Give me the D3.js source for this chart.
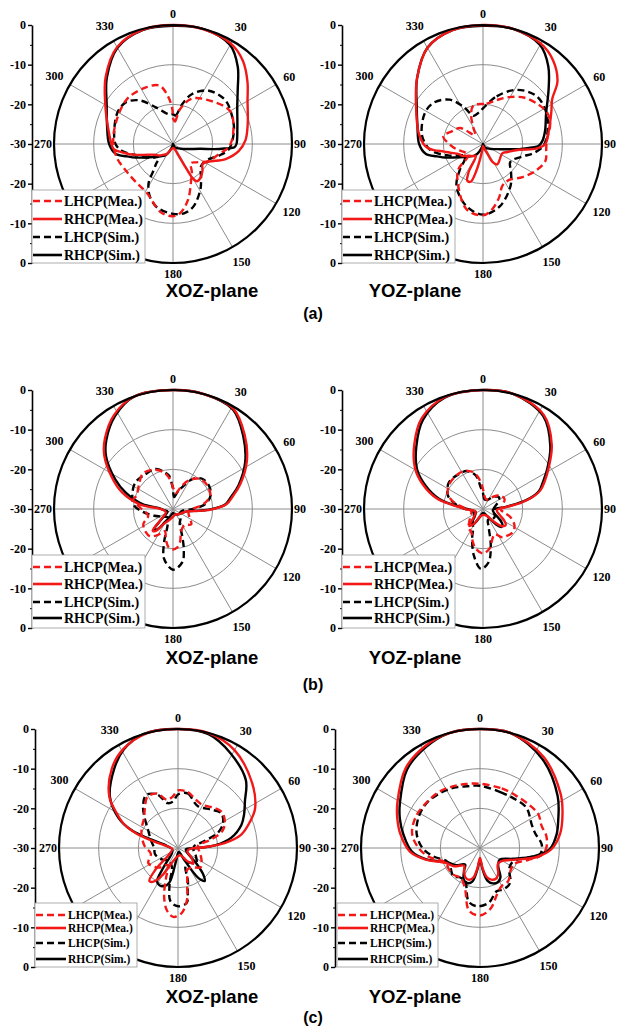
<!DOCTYPE html>
<html>
<head>
<meta charset="utf-8">
<script src="https://cdn.jsdelivr.net/npm/d3@7"></script>
<style>
  body { margin: 0; background: #fff; }
  svg { display: block; }
</style>
</head>
<body>
<svg id="chart" width="629" height="1028"></svg>
<script>
// ---- Tick labels / legend text ----
const spokeAngles = [0, 30, 60, 90, 120, 150, 180, 210, 240, 270, 300, 330];
// 210 and 240 sit under the legend box, so only these carry a label
const angleLabels = [0, 30, 60, 90, 120, 150, 180, 270, 300, 330];
const gridLevels = [-20, -10];
const axisTickLabels = ["0", "-10", "-20", "-30", "-20", "-10", "0"];
const legendLabels = ["LHCP(Mea.)", "RHCP(Mea.)", "LHCP(Sim.)", "RHCP(Sim.)"];
const planeTitles = ["XOZ-plane", "YOZ-plane"];
const figureLetters = ["(a)", "(b)", "(c)"];

// ---- Normalised patterns: [angle in degrees, level in dB] ----
// (a) XOZ-plane
const aXozLhcpMea = [[0,-23.5],[5,-24.3],[11,-21.2],[22,-17.7],[37,-16],[60,-13.4],[80,-14.6],[93,-15.9],[102,-18.1],[115,-20],[128,-22.5],[137,-23.4],[146,-21.5],[154,-19.6],[165,-15.4],[174,-12.5],[180,-11.8],[190,-12.5],[208,-16],[225,-16.6],[242,-16.3],[255,-15.5],[268,-15],[287,-14.7],[314,-13.8],[335,-14.2],[347,-14.9],[354,-17.9],[359,-21.3]];
const aXozRhcpMea = [[0,0],[15,-0.1],[30,-0.8],[40,-2.6],[50,-5.5],[60,-8.3],[75,-10.5],[87,-11.7],[96,-13.3],[106,-16.2],[116,-19.9],[124,-21],[132,-20],[140,-19.1],[147,-18.8],[150,-20],[152,-24],[156,-27.5],[165,-28.8],[180,-29],[200,-28.5],[212,-27],[220,-26.5],[230,-25.5],[240,-24.6],[250,-22],[255,-19.6],[259,-17.8],[265,-15],[270,-14.5],[285,-13],[300,-10.3],[315,-6],[330,-1.8],[345,-0.2]];
const aXozLhcpSim = [[0,-22.5],[5,-22.8],[13,-19.7],[21,-16.5],[34,-13.8],[50,-12.8],[66,-13.6],[78,-14.3],[95,-15.8],[104,-18],[113,-20.2],[122,-21],[130,-20.9],[140,-19],[149,-16.6],[162,-13.4],[171,-12.3],[180,-12.4],[194,-13.5],[204,-15.6],[212,-18.4],[216,-21.5],[221,-23.7],[226,-25.3],[235,-24],[245,-22],[251,-20.9],[262,-17.1],[270,-15.5],[283,-14.8],[300,-13.9],[311,-14.1],[322,-16],[335,-19.8],[347,-22],[354,-22.5]];
const aXozRhcpSim = [[0,-0.2],[15,0],[30,-1.2],[40,-4.6],[50,-8.7],[60,-11.3],[75,-13.2],[90,-14],[93,-14.5],[95,-17],[97,-19.5],[100,-23],[110,-26.3],[120,-27.6],[150,-29],[180,-30],[195,-29.5],[205,-28],[215,-26.5],[225,-25.6],[240,-23.3],[250,-20],[255,-18],[260,-15.4],[270,-13.9],[285,-12.8],[300,-10.7],[315,-6.4],[330,-2],[345,-0.3]];

// (a) YOZ-plane
const aYozLhcpMea = [[0,-19.9],[5,-19.8],[18,-18.3],[29,-16.5],[42,-14.3],[55,-12.8],[64,-12],[73,-12.3],[79,-13],[86,-13.9],[95,-14],[105,-13.7],[117,-15.1],[130,-17],[144,-18.8],[155,-18.4],[163,-16],[172,-13.4],[180,-12],[194,-13],[210,-17.6],[224,-21],[232,-25.5],[245,-25],[258,-23.3],[270,-21.5],[281,-19.8],[292,-21.5],[305,-23],[318,-27],[330,-25],[338,-22],[346,-20]];
const aYozRhcpMea = [[0,0],[15,0],[30,-0.8],[40,-2.5],[50,-5.5],[57,-9.2],[65,-11],[78,-13],[90,-14.3],[95,-16.5],[99,-20.8],[108,-23.5],[116,-24.6],[134,-24.2],[145,-23.7],[152,-24.8],[156,-27.5],[168,-29],[180,-29.5],[188,-28],[194,-23],[198,-20],[203,-19.9],[207,-22],[211,-26.5],[220,-26],[230,-25.4],[240,-24],[247,-23.4],[255,-21.5],[259,-20],[263,-17.5],[266,-16],[270,-15],[280,-13.5],[300,-10.5],[315,-6.5],[330,-2],[345,-0.3]];
const aYozLhcpSim = [[0,-21],[16,-17.5],[32,-13.9],[48,-11.9],[64,-12.2],[80,-13.5],[92,-14.8],[100,-17],[107,-19.4],[118,-21.5],[125,-21.7],[135,-20],[147,-17.3],[165,-13.7],[180,-12.2],[195,-13.8],[212,-17.4],[222,-21.3],[230,-24],[238,-24.4],[251,-21],[262,-17],[270,-15.5],[280,-14.3],[298,-13.4],[310,-13.8],[323,-16],[332,-19.3],[342,-22.5],[352,-22]];
const aYozRhcpSim = [[0,-0.2],[15,0],[30,-1.2],[40,-4.4],[50,-8.4],[64,-12.3],[78,-14],[87,-15],[92,-16],[94,-17.6],[98,-20.8],[109,-26],[120,-27.5],[150,-29],[180,-30],[195,-29.5],[205,-28],[215,-26.5],[225,-25.6],[240,-23.3],[250,-20],[255,-18],[260,-15.4],[270,-13.9],[285,-12.9],[300,-10.7],[315,-6.5],[330,-2],[345,-0.3]];

// (b) XOZ-plane
const bXozLhcpMea = [[0,-24.5],[10,-26],[20,-24],[30,-21.5],[42,-19.8],[55,-19.5],[70,-20],[80,-22],[90,-25],[100,-26],[115,-25.5],[130,-24],[145,-25],[160,-24],[168,-21.5],[174,-20.2],[180,-19.8],[186,-20.2],[193,-22],[200,-24],[210,-22.5],[220,-21],[230,-21],[243,-21.6],[255,-23.5],[273,-21.6],[283,-19.7],[290,-20.2],[305,-19.5],[319,-18.3],[334,-19],[346,-20.5],[354,-22.4]];
const bXozRhcpMea = [[0,0],[15,0],[31,-0.5],[44,-4],[57,-7.8],[70,-12],[78,-14.6],[85,-16.5],[91,-20.5],[95,-24],[100,-26.5],[130,-28],[160,-28.5],[180,-28],[200,-27],[212,-25.5],[218,-23],[223,-22.5],[228,-25.5],[245,-28],[265,-27.5],[273,-26],[278,-21.5],[288,-16.5],[297,-12.8],[308,-8],[316,-5.3],[328,-2],[341,0]];
const bXozLhcpSim = [[0,-25],[5,-27],[15,-25.5],[23,-24],[33,-21],[44,-19.4],[57,-19.2],[70,-19.9],[81,-21.7],[90,-25],[100,-27.5],[120,-28],[140,-27],[155,-26],[161,-23],[165,-19.5],[170,-16.4],[180,-14.7],[190,-17.2],[195,-21.3],[198,-25.5],[210,-27.5],[230,-27],[250,-25],[265,-22.3],[275,-20.2],[288,-19.2],[305,-18.4],[320,-18.8],[337,-19],[347,-20.5],[353,-21.5],[358,-24]];
const bXozRhcpSim = [[0,0],[15,0],[31,-0.7],[44,-4.5],[57,-8.3],[70,-12.4],[78,-15],[85,-16.8],[91,-20.9],[95,-24.5],[100,-26.5],[130,-28],[160,-28.5],[180,-29],[200,-28],[212,-26],[218,-23.5],[223,-23],[228,-26],[245,-28.5],[265,-27.5],[274,-26.5],[279,-22.2],[289,-17.4],[297,-13.7],[308,-8.6],[316,-5.8],[328,-2.4],[341,0]];

// (b) YOZ-plane
const bYozLhcpMea = [[0,-25],[5,-26.5],[20,-27.5],[35,-26.5],[47,-25],[55,-24.3],[65,-24],[80,-25],[92,-25.5],[100,-24.5],[107,-22.7],[118,-21],[128,-20.5],[140,-21],[146,-21.4],[155,-23],[163,-22],[170,-20],[180,-18.8],[190,-19.8],[198,-21.5],[207,-23.5],[217,-24],[235,-26],[260,-27],[275,-25],[283,-22.5],[292,-20.5],[305,-19.5],[320,-19.2],[332,-19.3],[342,-20],[350,-21.5],[356,-23.5]];
const bYozRhcpMea = [[0,0],[15,0],[33,-1.8],[47,-6.3],[58,-10.5],[66,-13],[72,-14.8],[77,-17.5],[81,-20.5],[85,-24],[95,-26.5],[110,-25.5],[118,-24],[125,-23],[132,-23.5],[140,-26],[150,-28],[180,-28.5],[200,-28],[212,-25.5],[219,-24.5],[226,-26.5],[250,-28],[268,-26],[277,-22.5],[283,-18],[292,-13.7],[301,-10],[313,-6.3],[326,-2.4],[341,-0.2]];
const bYozLhcpSim = [[0,-26],[8,-27.5],[25,-27.5],[40,-26],[54,-25],[65,-25.8],[80,-27],[100,-27.5],[120,-26.5],[140,-26.5],[155,-27],[163,-25],[168,-20.6],[174,-16.5],[182,-14.9],[191,-18],[200,-22],[207,-24.5],[220,-26],[245,-27.5],[265,-26.5],[272,-25],[280,-23],[288,-21],[295,-20.1],[308,-19.1],[326,-19.3],[337,-19.6],[348,-21.4],[354,-24.5]];
const bYozRhcpSim = [[0,0],[15,0],[33,-2.1],[47,-6.8],[58,-10.9],[66,-13.5],[72,-15.1],[77,-17.8],[80.5,-20.8],[85,-24.5],[95,-27.5],[110,-27],[120,-25.5],[128,-23.8],[134,-23.5],[140,-25],[150,-28],[180,-29],[200,-28],[212,-25.5],[219,-25],[226,-27],[250,-28],[268,-26.5],[277,-23],[283,-18.6],[292,-14.4],[301,-10.6],[313,-7],[326,-2.9],[341,-0.3]];

// (c) XOZ-plane
const cXozLhcpMea = [[0,-15.5],[10,-15.7],[20,-17],[30,-17.5],[41,-16.5],[51,-15.7],[61,-16.5],[69,-18],[75,-21],[85,-25],[100,-24.5],[115,-23.5],[130,-22.5],[145,-24],[158,-24],[163,-22],[166,-20.5],[170,-16.8],[177,-13.5],[184,-12.6],[190,-14],[196,-17.3],[202,-22],[210,-25],[225,-23],[243,-21.6],[258,-23],[273,-21.6],[290,-20.2],[300,-19.5],[312,-18.5],[320,-17],[329,-15],[339,-15.3],[347,-17.5],[354,-17]];
const cXozRhcpMea = [[0,0],[15,0],[30,-1.5],[49,-5.2],[63,-8.2],[70,-10.7],[78,-13.7],[84,-18.2],[88,-23],[95,-27],[110,-27.5],[125,-26],[135,-24.5],[145,-26],[160,-28],[180,-28],[200,-26.5],[210,-22],[216,-19.5],[221,-19],[226,-22],[233,-27],[260,-28.5],[280,-27],[285,-24],[289,-19],[294,-15],[300,-12],[307,-8.3],[320,-4],[331,-1.5],[345,0]];
const cXozLhcpSim = [[0,-16.5],[10,-16],[25,-18.3],[41,-17.2],[51,-16],[61,-17],[69,-19.2],[75,-23],[85,-26],[100,-26],[115,-25],[130,-24],[145,-25.5],[158,-25],[163,-21.5],[167,-19],[171,-16],[180,-15.3],[188,-16.4],[193,-20.5],[198,-25],[215,-26],[235,-25],[255,-24],[270,-24],[285,-23],[301,-21.2],[312,-18.7],[320,-16.3],[329,-14.4],[339,-15.6],[347,-18.4],[354,-18.2]];
const cXozRhcpSim = [[0,0],[15,-0.3],[29,-2.7],[45,-5.8],[55,-9.4],[63,-11.3],[70,-13],[79,-16.3],[86,-20.7],[90,-25],[100,-28],[120,-27],[130,-24],[137,-20.5],[141,-19.3],[146,-21],[152,-26.5],[170,-29],[188,-27],[194,-21],[200,-19.8],[206,-19.5],[212,-20],[217,-24],[230,-28],[260,-28.5],[278,-27.5],[284,-26.5],[288,-22],[291,-17.4],[297,-13.1],[307,-8.5],[321,-4.4],[331,-1.7],[343,0]];

// (c) YOZ-plane
const cYozLhcpMea = [[0,-13.8],[20,-14],[34,-14],[49,-13.5],[60,-13],[70,-13.5],[80,-13],[90,-13.3],[97,-14.5],[104,-17.5],[115,-20.5],[125,-20.5],[140,-19],[150,-19],[160,-17.5],[170,-14.5],[180,-13],[190,-14],[200,-19],[212,-21],[225,-20.5],[236,-20.5],[248,-20.5],[260,-17],[270,-14.5],[282,-12.5],[296,-12],[310,-12.3],[324,-12.5],[336,-13],[348,-13.5]];
const cYozRhcpMea = [[0,0],[15,0],[35,-2],[56,-5.5],[67,-7.4],[80,-9.5],[91,-12],[99,-15.5],[108,-20.5],[120,-23.5],[130,-24],[137,-23.5],[145,-22],[152,-21.3],[160,-21.5],[167,-22.5],[173,-25],[180,-27.5],[187,-25],[193,-22.3],[200,-21.5],[207,-21.8],[215,-23],[222,-24],[235,-22],[247,-20.5],[258,-16],[267,-12.3],[280,-9.6],[290,-7.8],[299,-6.2],[317,-2.5],[332,-0.8],[345,0]];
const cYozLhcpSim = [[0,-14.3],[20,-15],[34,-14.9],[49,-14.5],[66,-15.7],[75,-15.6],[87,-14.4],[96,-14.8],[102,-18],[112,-21],[125,-21],[139,-18.4],[150,-18],[159,-18.3],[171,-16],[183,-15.3],[192,-16.2],[204,-20.8],[215,-21],[223,-20.2],[236,-21],[248,-21],[260,-18],[270,-15.5],[282,-13.7],[296,-12.7],[310,-12.4],[324,-12.9],[336,-13.4],[348,-14.1]];
const cYozRhcpSim = [[0,0],[15,0],[35,-2.6],[56,-6.4],[70,-9],[80,-10.4],[91,-12.4],[99,-16.4],[108,-21.2],[120,-24.2],[130,-24],[137,-23.2],[145,-21],[152,-20.3],[160,-20.5],[167,-21.5],[173,-24.5],[180,-27],[187,-24.5],[193,-21.3],[200,-20.6],[207,-21],[215,-23],[222,-24.4],[235,-22.5],[247,-20.9],[258,-16.2],[267,-12.8],[280,-10.4],[290,-8.5],[299,-6.9],[317,-3],[332,-1.1],[345,0]];

// ---- Series appearance (same order as legendLabels) ----
const seriesStyle = [
  { color: "#f21818", dash: "7,4" },
  { color: "#f21818", dash: null },
  { color: "#000000", dash: "7,4" },
  { color: "#000000", dash: null }
];
const drawOrder = [2, 3, 0, 1];

// ---- Panel layout ----
const R = 119;
const panels = [
  { cx: 173, cy: 144, axisX: 32,  lg: { x: 32,  y: 190, w: 113, h: 73, rows: [11, 29, 47, 65], fs: 14,   line: 29 }, title: 0, tx: 212, ty: 297,
    series: [aXozLhcpMea, aXozRhcpMea, aXozLhcpSim, aXozRhcpSim] },
  { cx: 483, cy: 144, axisX: 342, lg: { x: 342, y: 190, w: 113, h: 73, rows: [11, 29, 47, 65], fs: 14,   line: 29 }, title: 1, tx: 415, ty: 297,
    series: [aYozLhcpMea, aYozRhcpMea, aYozLhcpSim, aYozRhcpSim] },
  { cx: 173, cy: 509, axisX: 32,  lg: { x: 32,  y: 555, w: 113, h: 73, rows: [12, 29, 47, 63], fs: 14,   line: 29 }, title: 0, tx: 212, ty: 664,
    series: [bXozLhcpMea, bXozRhcpMea, bXozLhcpSim, bXozRhcpSim] },
  { cx: 483, cy: 509, axisX: 342, lg: { x: 342, y: 555, w: 113, h: 73, rows: [12, 29, 47, 63], fs: 14,   line: 29 }, title: 1, tx: 415, ty: 664,
    series: [bYozLhcpMea, bYozRhcpMea, bYozLhcpSim, bYozRhcpSim] },
  { cx: 178, cy: 848, axisX: 35,  lg: { x: 35,  y: 903, w: 102, h: 64, rows: [12, 25, 40, 56], fs: 11.5, line: 30 }, title: 0, tx: 212, ty: 1003,
    series: [cXozLhcpMea, cXozRhcpMea, cXozLhcpSim, cXozRhcpSim] },
  { cx: 480, cy: 848, axisX: 335, lg: { x: 337, y: 903, w: 101, h: 64, rows: [12, 25, 40, 56], fs: 11.5, line: 30 }, title: 1, tx: 415, ty: 1003,
    series: [cYozLhcpMea, cYozRhcpMea, cYozLhcpSim, cYozRhcpSim] }
];
const letterPos = [{ x: 313, y: 319 }, { x: 313, y: 690 }, { x: 313, y: 1023 }];

const serif = "'Liberation Serif','Times New Roman',serif";
const sans = "'Liberation Sans',Arial,sans-serif";

const svg = d3.select("#chart");
svg.append("rect").attr("width", 629).attr("height", 1028).attr("fill", "#fff");

const rScale = d3.scaleLinear().domain([-30, 0]).range([0, R]).clamp(true);
const rad = d => d * Math.PI / 180;

const radial = d3.lineRadial()
  .angle(d => rad(d[0]))
  .radius(d => rScale(d[1]))
  .curve(d3.curveCatmullRomClosed.alpha(0.5));

panels.forEach(p => {
  const g = svg.append("g").attr("transform", `translate(${p.cx},${p.cy})`);

  // grid rings and spokes
  g.selectAll("circle.ring").data(gridLevels).join("circle")
    .attr("class", "ring").attr("r", d => rScale(d))
    .attr("fill", "none").attr("stroke", "#8c8c8c").attr("stroke-width", 1);
  g.selectAll("line.spoke").data(spokeAngles).join("line")
    .attr("class", "spoke")
    .attr("x1", 0).attr("y1", 0)
    .attr("x2", d => R * Math.sin(rad(d)))
    .attr("y2", d => -R * Math.cos(rad(d)))
    .attr("stroke", "#8c8c8c").attr("stroke-width", 1);

  // angle labels around the rim
  g.selectAll("text.ang").data(angleLabels).join("text")
    .attr("class", "ang")
    .each(function (d) {
      const t = String(d);
      const hw = t.length * 3;
      const s = Math.abs(Math.sin(rad(d))), c = Math.abs(Math.cos(rad(d)));
      const r = R + 2 + hw * s + 9 * c + 4 * Math.abs(Math.sin(rad(2 * d)));
      d3.select(this)
        .attr("x", r * Math.sin(rad(d)))
        .attr("y", -r * Math.cos(rad(d)))
        .text(t);
    })
    .attr("text-anchor", "middle").attr("dominant-baseline", "central")
    .attr("font-family", serif).attr("font-weight", "bold").attr("font-size", 12);

  // pattern curves
  drawOrder.forEach(i => {
    const s = seriesStyle[i];
    g.append("path")
      .datum(p.series[i])
      .attr("d", radial)
      .attr("fill", "none")
      .attr("stroke", s.color)
      .attr("stroke-width", 2.4)
      .attr("stroke-linejoin", "round")
      .attr("stroke-dasharray", s.dash);
  });

  // outer boundary
  g.append("circle").attr("r", R)
    .attr("fill", "none").attr("stroke", "#000").attr("stroke-width", 2.2);

  // left dB axis: 0 at top, -30 at centre, 0 at bottom
  const yScale = d3.scaleLinear().domain([0, 60]).range([p.cy - R, p.cy + R]);
  const major = d3.axisLeft(yScale)
    .tickValues(d3.range(0, 61, 10))
    .tickSize(4).tickSizeOuter(0).tickPadding(2)
    .tickFormat((v, i) => axisTickLabels[i]);
  const minor = d3.axisLeft(yScale)
    .tickValues(d3.range(5, 60, 10))
    .tickSize(2).tickSizeOuter(0).tickFormat("");
  const ax = svg.append("g").attr("transform", `translate(${p.axisX},0)`).call(major);
  svg.append("g").attr("transform", `translate(${p.axisX},0)`).call(minor)
    .select(".domain").remove();
  ax.select(".domain").attr("stroke-width", 1.6);
  ax.selectAll(".tick line").attr("stroke-width", 1.4);
  ax.selectAll(".tick text")
    .attr("font-family", serif).attr("font-weight", "bold").attr("font-size", 12)
    .attr("fill", "#000");

  // legend
  const L = p.lg;
  const lg = svg.append("g").attr("transform", `translate(${L.x},${L.y})`);
  lg.append("rect").attr("width", L.w).attr("height", L.h)
    .attr("fill", "#fff").attr("stroke", "#9a9a9a").attr("stroke-width", 0.8);
  legendLabels.forEach((lab, i) => {
    const s = seriesStyle[i];
    lg.append("line")
      .attr("x1", 1).attr("x2", 1 + L.line)
      .attr("y1", L.rows[i]).attr("y2", L.rows[i])
      .attr("stroke", s.color).attr("stroke-width", 2.6)
      .attr("stroke-dasharray", s.dash);
    lg.append("text")
      .attr("x", L.line + 3).attr("y", L.rows[i])
      .attr("dominant-baseline", "central")
      .attr("font-family", serif).attr("font-weight", "bold").attr("font-size", L.fs)
      .text(lab);
  });

  // plane title
  svg.append("text")
    .attr("x", p.tx).attr("y", p.ty)
    .attr("text-anchor", "middle")
    .attr("font-family", sans).attr("font-weight", "bold").attr("font-size", 18.5)
    .text(planeTitles[p.title]);
});

// figure part letters
figureLetters.forEach((t, i) => {
  svg.append("text")
    .attr("x", letterPos[i].x).attr("y", letterPos[i].y)
    .attr("text-anchor", "middle")
    .attr("font-family", sans).attr("font-weight", "bold").attr("font-size", 16)
    .text(t);
});
</script>
</body>
</html>
